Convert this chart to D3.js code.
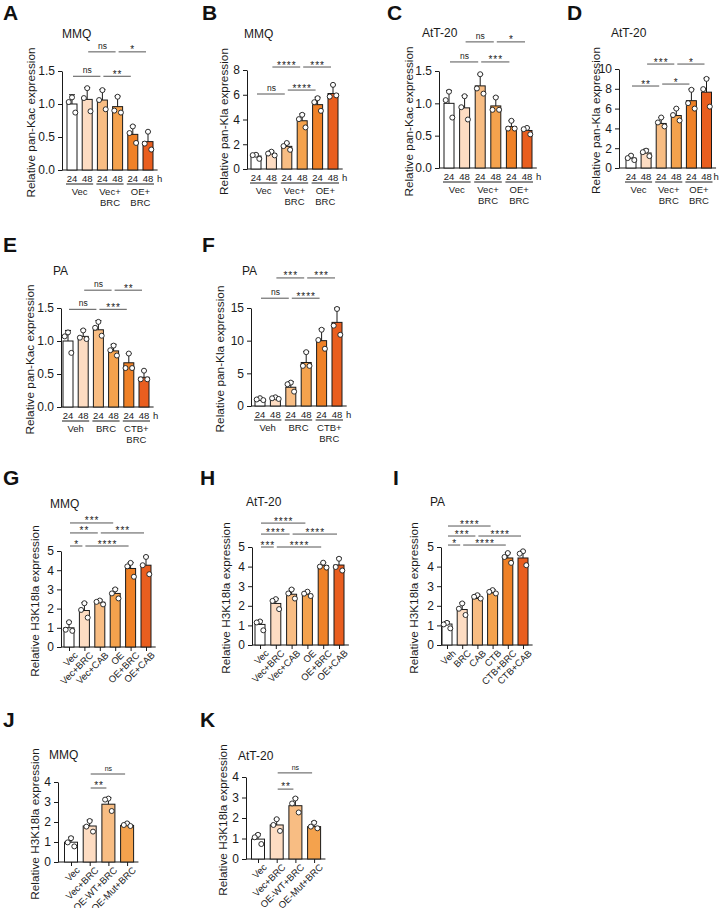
<!DOCTYPE html>
<html>
<head>
<meta charset="utf-8">
<script src="https://cdn.jsdelivr.net/npm/d3@7"></script>
<style>
  body { margin: 0; background: #fff; }
  svg { display: block; font-family: "Liberation Sans", Arial, sans-serif; }
</style>
</head>
<body>
<svg id="fig" width="721" height="908"></svg>
<script>
// ---- data ----
const barColors = ['#ffffff', '#fddcc2', '#f8bd83', '#f4a24d', '#ef8127', '#e95e1f'];
const timeTicks = ['24', '48', '24', '48', '24', '48'];
const groupsVec = [['Vec'], ['Vec+', 'BRC'], ['OE+', 'BRC']];
const groupsVeh = [['Veh'], ['BRC'], ['CTB+', 'BRC']];
const labelsG = ['Vec', 'Vec+BRC', 'Vec+CAB', 'OE', 'OE+BRC', 'OE+CAB'];
const labelsI = ['Veh', 'BRC', 'CAB', 'CTB', 'CTB+BRC', 'CTB+CAB'];
const labelsJ = ['Vec', 'Vec+BRC', 'OE-WT+BRC', 'OE-Mut+BRC'];

// A: MMQ pan-Kac
const meanA = [1.0, 1.07, 1.06, 0.96, 0.54, 0.43];
const errA = [1.14, 1.25, 1.22, 1.12, 0.67, 0.58];
const ptsA = [[1.10, 1.03, 0.87], [1.24, 1.09, 0.89], [1.21, 1.06, 0.92], [1.11, 0.90, 0.87], [0.66, 0.56, 0.41], [0.58, 0.40, 0.31]];
const sigA = [{ a: 1, b: 3, at: 1.79, t: 'ns' }, { a: 3, b: 5, at: 1.79, t: '*' }, { a: 0, b: 2, at: 1.42, t: 'ns' }, { a: 2, b: 4, at: 1.42, t: '**' }];

// B: MMQ pan-Kla
const meanB = [1.05, 1.25, 1.83, 3.9, 5.2, 6.1];
const errB = [1.2, 1.45, 2.05, 4.45, 5.8, 6.8];
const ptsB = [[1.15, 1.12, 0.82], [1.4, 1.25, 1.1], [2.1, 1.85, 1.55], [4.38, 4.03, 3.36], [5.72, 5.4, 4.7], [6.8, 5.85, 5.95]];
const sigB = [{ a: 1, b: 3, at: 8.24, t: '****' }, { a: 3, b: 5, at: 8.24, t: '***' }, { a: 0, b: 2, at: 6.06, t: 'ns' }, { a: 2, b: 4, at: 6.38, t: '****' }];

// C: AtT-20 pan-Kac
const meanC = [1.0, 0.93, 1.27, 0.96, 0.64, 0.58];
const errC = [1.2, 1.12, 1.45, 1.1, 0.73, 0.62];
const ptsC = [[1.18, 1.05, 0.78], [1.11, 0.94, 0.75], [1.45, 1.23, 1.15], [1.09, 0.9, 0.9], [0.73, 0.61, 0.61], [0.62, 0.6, 0.52]];
const sigC = [{ a: 1, b: 3, at: 1.95, t: 'ns' }, { a: 3, b: 5, at: 1.95, t: '*' }, { a: 0, b: 2, at: 1.64, t: 'ns' }, { a: 2, b: 4, at: 1.64, t: '***' }];

// D: AtT-20 pan-Kla
const meanD = [1.0, 1.52, 4.5, 5.3, 6.8, 7.66];
const errD = [1.3, 1.9, 5.1, 6.0, 7.97, 9.08];
const ptsD = [[1.25, 1.0, 0.8], [1.75, 1.6, 1.2], [5.1, 4.6, 4.2], [6.0, 5.35, 4.8], [7.9, 6.55, 6.0], [9.0, 7.97, 6.2]];
const sigD = [{ a: 1, b: 3, at: 10.5, t: '***' }, { a: 3, b: 5, at: 10.5, t: '*' }, { a: 0, b: 2, at: 8.28, t: '**' }, { a: 2, b: 4, at: 8.48, t: '*' }];

// E: PA pan-Kac
const meanE = [1.0, 1.07, 1.17, 0.85, 0.67, 0.45];
const errE = [1.16, 1.17, 1.31, 0.95, 0.81, 0.55];
const ptsE = [[1.13, 1.07, 0.82], [1.16, 1.05, 1.03], [1.29, 1.2, 1.08], [0.93, 0.86, 0.78], [0.81, 0.59, 0.59], [0.55, 0.42, 0.42]];
const sigE = [{ a: 1, b: 3, at: 1.77, t: 'ns' }, { a: 3, b: 5, at: 1.77, t: '**' }, { a: 0, b: 2, at: 1.48, t: 'ns' }, { a: 2, b: 4, at: 1.48, t: '***' }];

// F: PA pan-Kla
const meanF = [1.0, 1.1, 2.87, 6.66, 10.0, 12.8];
const errF = [1.3, 1.4, 3.74, 8.35, 11.8, 15.0];
const ptsF = [[1.2, 1.0, 0.9], [1.33, 1.18, 1.08], [3.58, 3.33, 2.2], [8.24, 6.14, 6.14], [11.67, 10.1, 8.76], [14.85, 12.3, 10.9]];
const sigF = [{ a: 1, b: 3, at: 19.6, t: '***' }, { a: 3, b: 5, at: 19.6, t: '***' }, { a: 0, b: 2, at: 16.5, t: 'ns' }, { a: 2, b: 4, at: 16.5, t: '****' }];

// G: MMQ H3K18la
const meanG = [1.0, 1.9, 2.33, 2.79, 4.09, 4.26];
const errG = [1.33, 2.31, 2.45, 3.05, 4.4, 4.72];
const ptsG = [[1.29, 0.9, 0.84], [2.28, 1.93, 1.53], [2.42, 2.35, 2.22], [3.0, 2.79, 2.53], [4.38, 4.2, 3.66], [4.69, 4.26, 3.79]];
const sigG = [{ a: 0, b: 3, at: 6.46, t: '***' }, { a: 0, b: 2, at: 5.94, t: '**' }, { a: 2, b: 5, at: 5.94, t: '***' }, { a: 0, b: 1, at: 5.26, t: '*' }, { a: 1, b: 4, at: 5.26, t: '****' }];

// H: AtT-20 H3K18la
const meanH = [1.05, 2.12, 2.59, 2.59, 4.05, 4.08];
const errH = [1.24, 2.37, 2.86, 2.73, 4.2, 4.44];
const ptsH = [[1.2, 1.15, 0.75], [2.34, 2.25, 1.83], [2.83, 2.63, 2.37], [2.72, 2.62, 2.5], [4.2, 4.0, 3.95], [4.4, 3.98, 3.8]];
const sigH = [{ a: 0, b: 3, at: 6.22, t: '****' }, { a: 0, b: 2, at: 5.66, t: '****' }, { a: 2, b: 5, at: 5.66, t: '****' }, { a: 0, b: 1, at: 5.0, t: '***' }, { a: 1, b: 4, at: 5.0, t: '****' }];

// I: PA H3K18la
const meanI = [1.07, 1.81, 2.37, 2.66, 4.44, 4.44];
const errI = [1.19, 2.15, 2.58, 2.83, 4.71, 4.8];
const ptsI = [[1.13, 1.05, 0.85], [2.12, 1.85, 1.53], [2.54, 2.46, 2.37], [2.8, 2.71, 2.63], [4.69, 4.49, 4.19], [4.78, 4.66, 4.07]];
const sigI = [{ a: 0, b: 3, at: 6.07, t: '****' }, { a: 0, b: 2, at: 5.56, t: '***' }, { a: 2, b: 5, at: 5.56, t: '****' }, { a: 0, b: 1, at: 5.1, t: '*' }, { a: 1, b: 4, at: 5.1, t: '****' }];

// J: MMQ H3K18la mutant
const meanJ = [0.99, 1.8, 2.89, 1.83];
const errJ = [1.24, 2.1, 3.22, 1.97];
const ptsJ = [[1.19, 0.98, 0.78], [2.05, 1.77, 1.52], [3.17, 3.12, 2.55], [1.93, 1.85, 1.8]];
const sigJ = [{ a: 1, b: 3, at: 4.4, t: 'ns' }, { a: 1, b: 2, at: 3.7, t: '**' }];

// K: AtT-20 H3K18la mutant
const meanK = [0.97, 1.66, 2.6, 1.58];
const errK = [1.23, 1.95, 2.98, 1.82];
const ptsK = [[1.18, 1.06, 0.73], [1.94, 1.66, 1.37], [2.95, 2.71, 2.27], [1.77, 1.58, 1.5]];
const sigK = [{ a: 1, b: 3, at: 4.2, t: 'ns' }, { a: 1, b: 2, at: 3.41, t: '**' }];

// ---- layout of each panel ----
const panels = [
    { letter: 'A', lx: 3, ly: 20, title: 'MMQ', tx: 62, ty: 38, left: 62, top: 71, bottom: 170, first: 72, step: 15.2, bw: 10, yMax: 1.5, ticks: [0, 0.5, 1, 1.5], fmt: '.1f', yLabel: 'Relative pan-Kac expression', labX: 31, mean: meanA, err: errA, pts: ptsA, sig: sigA, groups: groupsVec },
    { letter: 'B', lx: 202, ly: 20, title: 'MMQ', tx: 244, ty: 38, left: 247, top: 70, bottom: 169, first: 256, step: 15.4, bw: 10, yMax: 8, ticks: [0, 2, 4, 6, 8], fmt: 'd', yLabel: 'Relative pan-Kla expression', labX: 224, mean: meanB, err: errB, pts: ptsB, sig: sigB, groups: groupsVec },
    { letter: 'C', lx: 387, ly: 20, title: 'AtT-20', tx: 422, ty: 37, left: 439, top: 71, bottom: 168, first: 449, step: 15.6, bw: 10, yMax: 1.5, ticks: [0, 0.5, 1, 1.5], fmt: '.1f', yLabel: 'Relative pan-Kac expression', labX: 409, mean: meanC, err: errC, pts: ptsC, sig: sigC, groups: groupsVec },
    { letter: 'D', lx: 567, ly: 20, title: 'AtT-20', tx: 611, ty: 37, left: 619, top: 69, bottom: 168, first: 631, step: 15.1, bw: 10, yMax: 10, ticks: [0, 2, 4, 6, 8, 10], fmt: 'd', yLabel: 'Relative pan-Kla expression', labX: 596, mean: meanD, err: errD, pts: ptsD, sig: sigD, groups: groupsVec, hOff: 7 },
    { letter: 'E', lx: 3, ly: 252, title: 'PA', tx: 53, ty: 275, left: 61, top: 308, bottom: 407, first: 68, step: 15.2, bw: 10, yMax: 1.5, ticks: [0, 0.5, 1, 1.5], fmt: '.1f', yLabel: 'Relative pan-Kac expression', labX: 30, mean: meanE, err: errE, pts: ptsE, sig: sigE, groups: groupsVeh },
    { letter: 'F', lx: 202, ly: 252, title: 'PA', tx: 242, ty: 275, left: 251, top: 308, bottom: 406, first: 260, step: 15.4, bw: 10, yMax: 15, ticks: [0, 5, 10, 15], fmt: 'd', yLabel: 'Relative pan-Kla expression', labX: 220, mean: meanF, err: errF, pts: ptsF, sig: sigF, groups: groupsVeh },
    { letter: 'G', lx: 3, ly: 485, title: 'MMQ', tx: 50, ty: 508, left: 61, top: 551, bottom: 647, first: 69, step: 15.4, bw: 10, yMax: 5, ticks: [0, 1, 2, 3, 4, 5], fmt: 'd', yLabel: 'Relative H3K18la expression', labX: 35, mean: meanG, err: errG, pts: ptsG, sig: sigG, names: labelsG },
    { letter: 'H', lx: 200, ly: 485, title: 'AtT-20', tx: 246, ty: 506, left: 252, top: 547, bottom: 645, first: 260, step: 15.8, bw: 10, yMax: 5, ticks: [0, 1, 2, 3, 4, 5], fmt: 'd', yLabel: 'Relative H3K18la expression', labX: 226, mean: meanH, err: errH, pts: ptsH, sig: sigH, names: labelsG },
    { letter: 'I', lx: 393, ly: 485, title: 'PA', tx: 430, ty: 506, left: 441, top: 547, bottom: 645, first: 447, step: 15.2, bw: 10, yMax: 5, ticks: [0, 1, 2, 3, 4, 5], fmt: 'd', yLabel: 'Relative H3K18la expression', labX: 414, mean: meanI, err: errI, pts: ptsI, sig: sigI, names: labelsI },
    { letter: 'J', lx: 3, ly: 727, title: 'MMQ', tx: 49, ty: 759, left: 58, top: 782, bottom: 862, first: 71, step: 18.7, bw: 13, yMax: 4, ticks: [0, 1, 2, 3, 4], fmt: 'd', yLabel: 'Relative H3K18la expression', labX: 35, mean: meanJ, err: errJ, pts: ptsJ, sig: sigJ, names: labelsJ, small: true },
    { letter: 'K', lx: 200, ly: 727, title: 'AtT-20', tx: 238, ty: 760, left: 246, top: 777, bottom: 859, first: 258, step: 18.7, bw: 13, yMax: 4, ticks: [0, 1, 2, 3, 4], fmt: 'd', yLabel: 'Relative H3K18la expression', labX: 223, mean: meanK, err: errK, pts: ptsK, sig: sigK, names: labelsJ, small: true }
];

const ink = '#1a1a1a';
const jitter = [0, -3.3, 3.3];
const svg = d3.select('#fig');
svg.append('rect').attr('width', 721).attr('height', 908).attr('fill', '#fff');

panels.forEach(p => {
    let g = svg.append('g');
    let n = p.mean.length;

    let x = d3.scalePoint()
        .domain(d3.range(n))
        .range([p.first, p.first + (n - 1) * p.step]);
    let y = d3.scaleLinear()
        .domain([0, p.yMax])
        .range([p.bottom, p.top]);
    let xEnd = x(n - 1) + p.step / 2 + 2;

    // panel letter + title
    g.append('text').attr('x', p.lx).attr('y', p.ly)
        .attr('font-size', 21).attr('font-weight', 'bold').attr('fill', '#111').text(p.letter);
    g.append('text').attr('x', p.tx).attr('y', p.ty)
        .attr('font-size', 12).attr('fill', ink).text(p.title);

    // y axis
    let yAxis = g.append('g')
        .attr('transform', `translate(${p.left},0)`)
        .call(d3.axisLeft(y).tickValues(p.ticks).tickFormat(d3.format(p.fmt)).tickSize(4).tickSizeOuter(0));
    yAxis.attr('font-family', null).attr('font-size', 12);
    yAxis.selectAll('path, line').attr('stroke', ink);
    yAxis.selectAll('text').attr('fill', ink);

    g.append('text')
        .attr('transform', `translate(${p.labX},${(p.top + p.bottom) / 2 + 2}) rotate(-90)`)
        .attr('text-anchor', 'middle').attr('dy', '0.35em')
        .attr('font-size', 11.8).attr('fill', ink).text(p.yLabel);

    // x baseline
    g.append('line')
        .attr('x1', p.left).attr('x2', xEnd)
        .attr('y1', p.bottom).attr('y2', p.bottom)
        .attr('stroke', ink).attr('stroke-width', 1);

    // bars
    g.selectAll('.bar').data(p.mean).enter().append('rect')
        .attr('class', 'bar')
        .attr('x', (d, i) => x(i) - p.bw / 2)
        .attr('y', d => y(d))
        .attr('width', p.bw)
        .attr('height', d => p.bottom - y(d))
        .attr('fill', (d, i) => barColors[i])
        .attr('stroke', ink).attr('stroke-width', 1);

    // error bars (upper SD)
    p.err.forEach((e, i) => {
        g.append('line').attr('x1', x(i)).attr('x2', x(i))
            .attr('y1', y(p.mean[i])).attr('y2', y(e))
            .attr('stroke', ink).attr('stroke-width', 1);
        g.append('line').attr('x1', x(i) - 3).attr('x2', x(i) + 3)
            .attr('y1', y(e)).attr('y2', y(e))
            .attr('stroke', ink).attr('stroke-width', 1);
    });

    // replicate points
    p.pts.forEach((arr, i) => {
        g.selectAll(null).data(arr).enter().append('circle')
            .attr('cx', (d, k) => x(i) + jitter[k])
            .attr('cy', d => y(d))
            .attr('r', 2.5)
            .attr('fill', '#fff').attr('stroke', ink).attr('stroke-width', 0.9);
    });

    // significance lines
    p.sig.forEach(s => {
        let yy = y(s.at);
        g.append('line')
            .attr('x1', x(s.a) + 1).attr('x2', x(s.b) - 2)
            .attr('y1', yy).attr('y2', yy)
            .attr('stroke', '#555').attr('stroke-width', 1);
        let isNs = s.t === 'ns';
        g.append('text')
            .attr('x', (x(s.a) + x(s.b)) / 2).attr('y', isNs ? yy - 3 : yy + (p.small ? 1 : 1.5))
            .attr('text-anchor', 'middle')
            .attr('font-size', isNs ? (p.small ? 7 : 8.5) : 10)
            .attr('letter-spacing', isNs ? 0 : 1)
            .attr('fill', ink).text(s.t);
    });

    // x labels
    if (p.groups) {
        timeTicks.forEach((t, i) => {
            g.append('text').attr('x', x(i)).attr('y', p.bottom + 12)
                .attr('text-anchor', 'middle').attr('font-size', 9.5).attr('fill', ink).text(t);
        });
        g.append('text').attr('x', x(n - 1) + (p.hOff || 9)).attr('y', p.bottom + 12)
            .attr('font-size', 9.5).attr('fill', ink).text('h');
        p.groups.forEach((lines, k) => {
            let c0 = x(2 * k), c1 = x(2 * k + 1);
            g.append('line').attr('x1', c0 - 6).attr('x2', c1 + 6)
                .attr('y1', p.bottom + 14).attr('y2', p.bottom + 14)
                .attr('stroke', ink).attr('stroke-width', 1);
            lines.forEach((l, j) => {
                g.append('text').attr('x', (c0 + c1) / 2).attr('y', p.bottom + 25 + j * 11)
                    .attr('text-anchor', 'middle').attr('font-size', 9.5).attr('fill', ink).text(l);
            });
        });
    } else {
        let xAxis = g.append('g')
            .attr('transform', `translate(0,${p.bottom})`)
            .call(d3.axisBottom(x).tickSize(4).tickFormat(i => p.names[i]));
        xAxis.select('.domain').remove();
        xAxis.attr('font-family', null).attr('font-size', 9.5);
        xAxis.selectAll('line').attr('stroke', ink);
        xAxis.selectAll('text')
            .attr('fill', ink)
            .attr('text-anchor', 'end')
            .attr('transform', 'translate(3,3) rotate(-45)')
            .attr('dy', '0.35em').attr('y', 5);
    }
});
</script>
</body>
</html>
